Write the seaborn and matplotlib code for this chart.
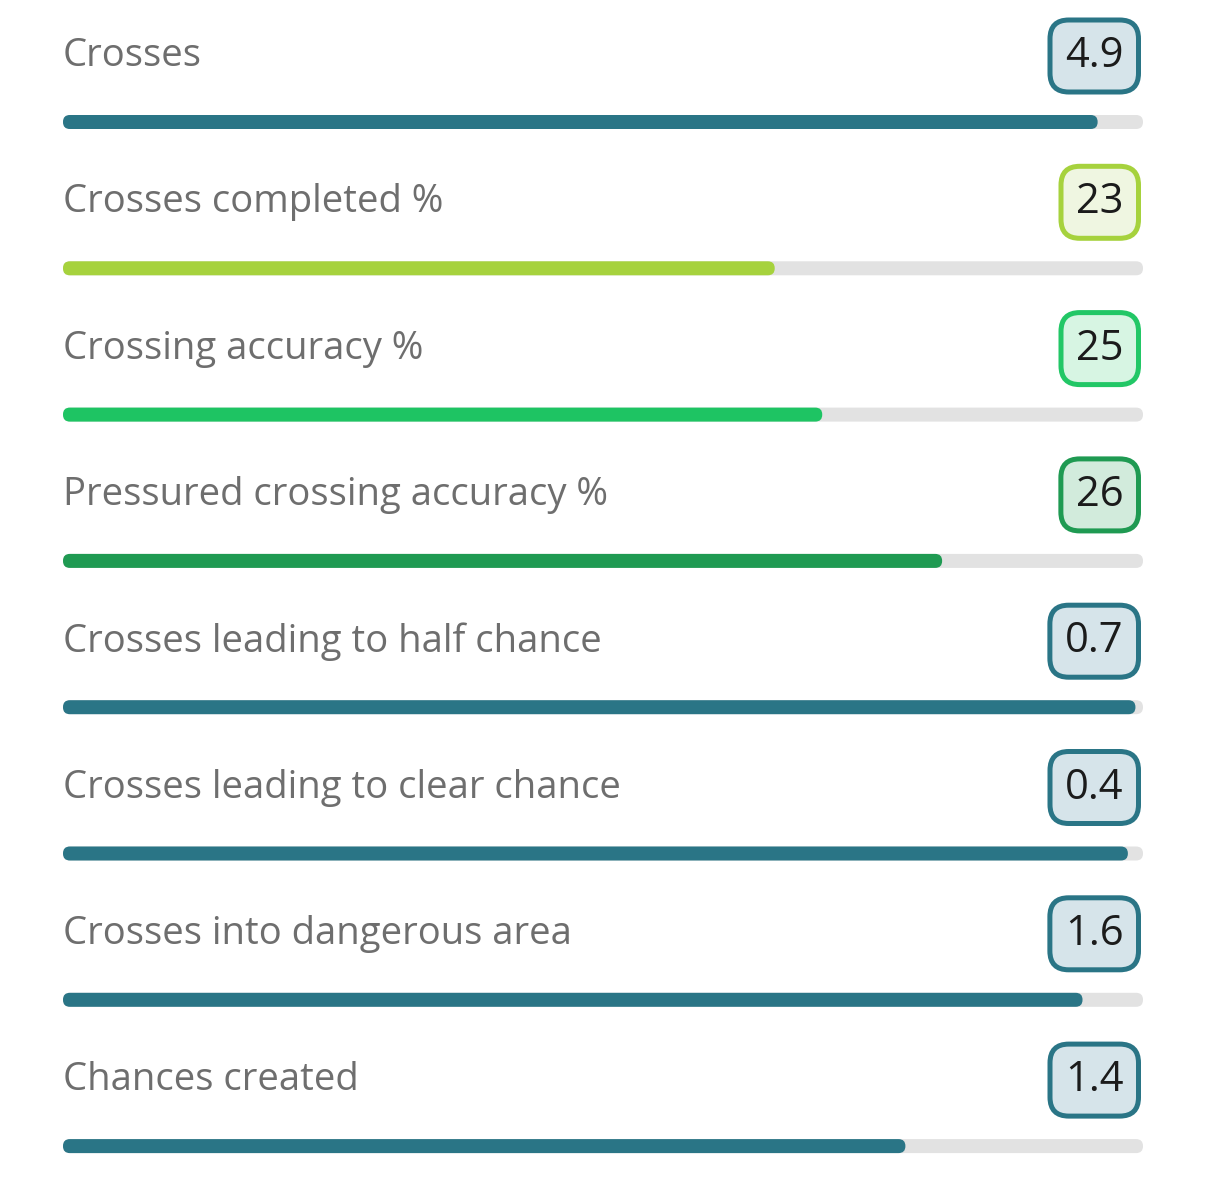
import numpy as np
import pandas as pd
import seaborn as sns
import matplotlib.pyplot as plt
from matplotlib.patches import FancyBboxPatch

labels = ["Crosses", "Crosses completed %", "Crossing accuracy %",
          "Pressured crossing accuracy %", "Crosses leading to half chance",
          "Crosses leading to clear chance", "Crosses into dangerous area",
          "Chances created"]
values = ["4.9", "23", "25", "26", "0.7", "0.4", "1.6", "1.4"]
fractions = [0.958, 0.659, 0.703, 0.814, 0.993, 0.986, 0.944, 0.78]

TEAL = "#2a7586"
bar_colors = [TEAL, "#a6d23d", "#1ec463", "#1f9a52", TEAL, TEAL, TEAL, TEAL]
box_edge = [TEAL, "#a6d23d", "#22c766", "#1f9a52", TEAL, TEAL, TEAL, TEAL]
box_fill = ["#d6e4ea", "#eff6e1", "#d7f5e3", "#d2ebdc", "#d6e4ea", "#d6e4ea", "#d6e4ea", "#d6e4ea"]
TRACK = "#e2e2e2"

W, H = 1206, 1178
ROW = 146.3
sns.set_theme(style="white")
plt.rcParams["font.family"] = ["Open Sans", "DejaVu Sans"]

fig = plt.figure(figsize=(W / 100, H / 100), dpi=100)
ax = fig.add_axes([63 / W, 0, 1080 / W, 1])

df = pd.DataFrame({"label": labels, "frac": fractions, "track": [1.0] * len(labels)})
bar_w = 14 / ROW
sns.barplot(data=df, x="track", y="label", color=TRACK, width=bar_w, ax=ax,
            saturation=1, orient="h")
sns.barplot(data=df, x="frac", y="label", hue="label", palette=bar_colors,
            width=bar_w, ax=ax, saturation=1, legend=False, orient="h", dodge=False)

top = -122 / ROW
ax.set_xlim(0, 1)
ax.set_ylim(top + H / ROW, top)
ax.axis("off")

# round the bar ends
aspect = 1080 / ROW
r = 6.9 / 1080
for p in list(ax.patches):
    x, y = p.get_xy()
    w, h = p.get_width(), p.get_height()
    fc = p.get_facecolor()
    p.remove()
    if w <= 0:
        continue
    ax.add_patch(FancyBboxPatch((x, y), w, h,
                                boxstyle=f"round,pad=0,rounding_size={r}",
                                mutation_aspect=aspect, fc=fc, ec="none"))

label_off = 66 / ROW
fs_val = 30
pad = 0.36
lw = 3.6
right_px = 1141 - lw * 100 / 72 / 2 - pad * fs_val * 100 / 72
xr = (right_px - 63) / 1080
for i, (lab, val) in enumerate(zip(labels, values)):
    yc = i - label_off
    ax.text(0, yc, lab, ha="left", va="center", fontsize=27.5, color="#6e6e6e",
            clip_on=False)
    ax.text(xr, yc, val, ha="right", va="center", fontsize=fs_val, color="#1b1b1b",
            clip_on=False, fontweight="medium",
            bbox=dict(boxstyle=f"round,pad={pad},rounding_size=0.45",
                      fc=box_fill[i], ec=box_edge[i], lw=lw))

fig.savefig("out.png", dpi=100, facecolor="white")
